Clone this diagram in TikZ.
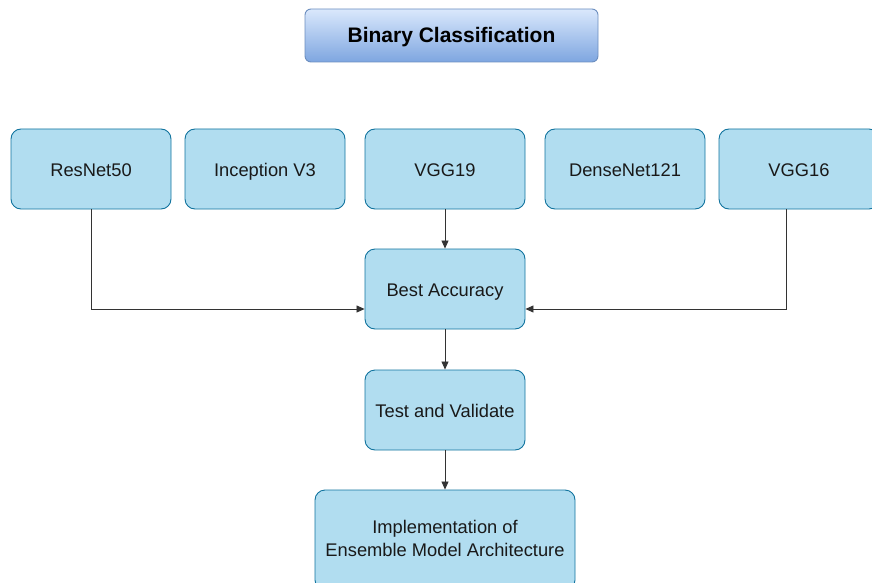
\documentclass[tikz,border=0pt]{standalone}
\usepackage{fontspec}
\setmainfont{Liberation Sans}
\usetikzlibrary{arrows.meta,calc}
\definecolor{boxfill}{HTML}{B1DDF0}
\definecolor{boxline}{HTML}{10739E}
\definecolor{titletop}{HTML}{DAE8FC}
\definecolor{titlebot}{HTML}{7EA6E0}
\definecolor{titleline}{HTML}{6C8EBF}
\tikzset{
  stage/.style={draw=boxline, fill=boxfill, rounded corners=10pt, line width=0.9pt,
    minimum width=160pt, minimum height=80pt, inner sep=2pt, align=center,
    font=\fontsize{18.3}{23}\selectfont, text=black!90,
    text height=17pt, text depth=2pt},
  titlebox/.style={draw=titleline, top color=titletop, bottom color=titlebot,
    rounded corners=6pt, line width=0.9pt, minimum width=293pt, minimum height=53pt,
    font=\fontsize{21}{25}\selectfont\bfseries, text height=17pt, text depth=3pt},
  flow/.style={-{Triangle[length=8pt,width=7pt]}, line width=0.8pt, draw=black!80}
}
\begin{document}
\begin{tikzpicture}[x=1pt,y=-1pt]
\useasboundingbox (0,0) rectangle (872,583);
\clip (0,0) rectangle (872,583);
\node[titlebox] (title) at (451.5,35.5) {Binary Classification};
\node[stage] (resnet) at (91,169) {ResNet50};
\node[stage] (incep) at (265,169) {Inception V3};
\node[stage] (vgg19) at (445,169) {VGG19};
\node[stage] (dense) at (625,169) {DenseNet121};
\node[stage] (vgg16) at (799,169) {VGG16};
\node[stage] (best) at (445,289) {Best Accuracy};
\node[stage] (test) at (445,410) {Test and Validate};
\node[stage, minimum width=260pt, minimum height=100pt, text height=, text depth=] (impl) at (445,540)
  {\raisebox{6pt}{\begin{tabular}{@{}c@{}}Implementation of\\Ensemble Model Architecture\end{tabular}}};
\coordinate (r) at (91,209);
\coordinate (v) at (786,209);
\draw[flow] (r) |- ($(best.west)+(0,20)$);
\draw[flow] (v) |- ($(best.east)+(0,20)$);
\draw[flow] (vgg19) -- (best);
\draw[flow] (best) -- (test);
\draw[flow] (test) -- (impl);
\end{tikzpicture}
\end{document}
